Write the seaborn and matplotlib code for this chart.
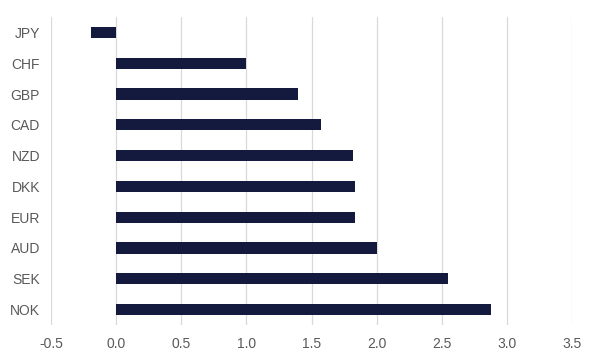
import matplotlib
matplotlib.use("Agg")
import matplotlib.pyplot as plt
import seaborn as sns
import pandas as pd

currencies = ["JPY", "CHF", "GBP", "CAD", "NZD", "DKK", "EUR", "AUD", "SEK", "NOK"]
values = [-0.19, 1.0, 1.40, 1.57, 1.82, 1.835, 1.835, 2.0, 2.55, 2.88]
xticks = [-0.5, 0.0, 0.5, 1.0, 1.5, 2.0, 2.5, 3.0, 3.5]

df = pd.DataFrame({"currency": currencies, "value": values})

sns.set_theme(style="white")
plt.rcParams["font.family"] = ["Liberation Sans", "DejaVu Sans"]

fig = plt.figure(figsize=(6, 3.6), dpi=100)
ax = fig.add_axes([51/600, 1 - 325/360, (572-51)/600, (325-17)/360])

sns.barplot(data=df, x="value", y="currency", order=currencies, color="#131a3d",
            saturation=1, width=0.36, linewidth=0, ax=ax)

ax.set_xlim(-0.5, 3.5)
ax.set_ylim(9.5, -0.5)
ax.set_xticks(xticks)
ax.set_xticklabels([f"{t:.1f}" for t in xticks])
ax.grid(axis="x", color="#d9d9d9", linewidth=0.9)
ax.grid(axis="y", visible=False)
ax.set_axisbelow(True)
for s in ax.spines.values():
    s.set_visible(False)
ax.tick_params(axis="both", length=0, labelsize=10, labelcolor="#595959")
ax.tick_params(axis="x", pad=9)
ax.tick_params(axis="y", pad=8)
ax.set_xlabel("")
ax.set_ylabel("")

fig.savefig("out.png", dpi=100)
